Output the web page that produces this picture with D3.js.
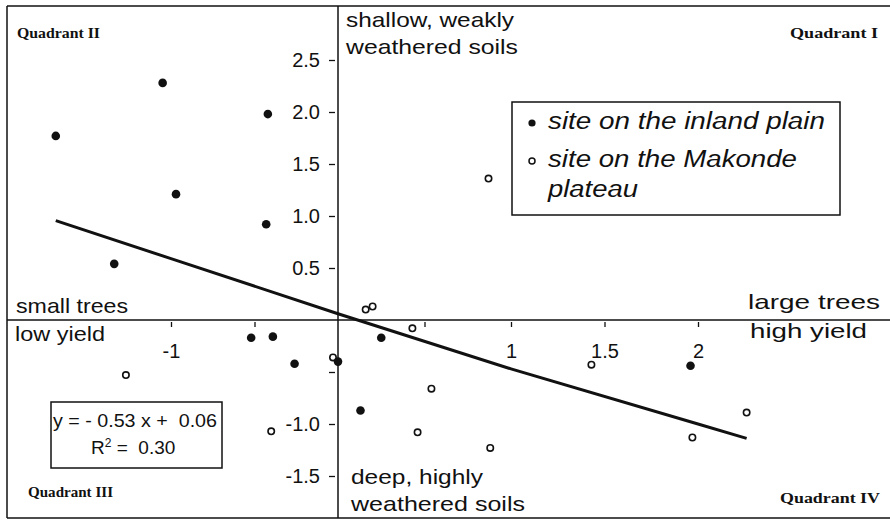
<!DOCTYPE html>
<html>
  <head>
    <title>Tree size and yield vs soil factor</title>
    <script src="https://cdn.jsdelivr.net/npm/d3@7"></script>
    <style>
      body { margin: 0; background: #fff; }
      svg text { fill: #111; }
      .note { font-family: "Liberation Sans", Arial, sans-serif; font-size: 21px; }
      .legend text { font-family: "Liberation Sans", Arial, sans-serif; font-size: 23px; font-style: italic; }
      .quad { font-family: "Liberation Serif", "DejaVu Serif", serif; font-weight: bold; font-size: 14px; }
      .eq { font-family: "Liberation Sans Narrow", "Liberation Sans", sans-serif; font-size: 19px; white-space: pre; }
      .tick text { font-family: "Liberation Sans", Arial, sans-serif; font-size: 20px; fill: #111; }
      .tick line { stroke: #111; stroke-width: 1.3; }
    </style>
  </head>
  <body>
    <svg id="chart" width="890" height="526"></svg>
    <script>
      // sites on the inland plain (filled dots)
      const plainX = [-1.69, -1.05, -0.42, -0.97, -1.34, -0.43, -0.52, -0.39, -0.26, 0.0, 0.25, 0.13, 1.96];
      const plainY = [1.77, 2.28, 1.98, 1.21, 0.54, 0.92, -0.17, -0.16, -0.42, -0.40, -0.17, -0.87, -0.44];

      // sites on the Makonde plateau (open circles)
      const plateauX = [0.87, 0.16, 0.20, 0.43, -1.27, -0.03, -0.40, 0.54, 1.43, 0.46, 0.88, 2.26, 1.97];
      const plateauY = [1.36, 0.10, 0.13, -0.08, -0.53, -0.36, -1.07, -0.66, -0.43, -1.08, -1.23, -0.89, -1.13];

      // linear fit y = -0.53 x + 0.06, R2 = 0.30
      const slope = -0.53;
      const intercept = 0.06;
      const fitX = [-1.69, -1, 0, 1, 2, 2.26];

      const xTicks = [-1, -0.5, 0.5, 1, 1.5, 2];
      const xLabels = ["-1", "", "", "1", "1.5", "2"];
      const yTicks = [2.5, 2, 1.5, 1, 0.5, -0.5, -1, -1.5];
      const yLabels = ["2.5", "2.0", "1.5", "1.0", "0.5", "", "-1.0", "-1.5"];

      const svg = d3.select("#chart");

      // the scanned original is stretched a little more on the right, so x is piecewise
      const x = d3.scaleLinear().domain([-1, 0, 1, 2]).range([171, 338, 511, 698]);
      const y = d3.scaleLinear().domain([-1.5, 2.5]).range([476, 60]);

      // frame and quadrant dividers
      const frame = svg.append("g").attr("stroke", "#111").attr("stroke-width", 1.5);
      frame.append("line").attr("x1", 7).attr("x2", 890).attr("y1", 6).attr("y2", 6);
      frame.append("line").attr("x1", 7).attr("x2", 890).attr("y1", 518).attr("y2", 518);
      frame.append("line").attr("x1", 7).attr("x2", 7).attr("y1", 6).attr("y2", 518);
      frame.append("line").attr("x1", x(0)).attr("x2", x(0)).attr("y1", 6).attr("y2", 518);
      frame.append("line").attr("x1", 7).attr("x2", 890).attr("y1", y(0)).attr("y2", y(0));

      // axes along the dividers
      const yAxis = svg.append("g")
        .attr("transform", `translate(${x(0)},0)`)
        .call(d3.axisLeft(y).tickValues(yTicks).tickSize(8).tickPadding(10)
          .tickFormat(d => yLabels[yTicks.indexOf(d)]));
      yAxis.select(".domain").remove();
      yAxis.selectAll(".tick line").attr("x1", -3).attr("x2", -9);

      const xAxis = svg.append("g")
        .attr("transform", `translate(0,${y(0)})`)
        .call(d3.axisBottom(x).tickValues(xTicks).tickSize(7).tickPadding(17)
          .tickFormat(d => xLabels[xTicks.indexOf(d)]));
      xAxis.select(".domain").remove();
      xAxis.selectAll(".tick line").attr("y1", 2);

      // regression line
      const line = d3.line().x(d => x(d)).y(d => y(slope * d + intercept));
      svg.append("path")
        .datum(fitX)
        .attr("d", line)
        .attr("fill", "none")
        .attr("stroke", "#111")
        .attr("stroke-width", 3);

      // points
      svg.append("g").selectAll("circle")
        .data(d3.range(plateauX.length))
        .enter()
        .append("circle")
        .attr("cx", i => x(plateauX[i]))
        .attr("cy", i => y(plateauY[i]))
        .attr("r", 3.2)
        .attr("fill", "#fff")
        .attr("stroke", "#111")
        .attr("stroke-width", 1.6);

      svg.append("g").selectAll("circle")
        .data(d3.range(plainX.length))
        .enter()
        .append("circle")
        .attr("cx", i => x(plainX[i]))
        .attr("cy", i => y(plainY[i]))
        .attr("r", 4.3)
        .attr("fill", "#111");

      // quadrant notes
      const notes = [
        { t: "shallow, weakly", x: 346, y: 27, w: 168 },
        { t: "weathered soils", x: 346, y: 54, w: 172 },
        { t: "small trees", x: 16, y: 313, w: 112 },
        { t: "low yield", x: 15, y: 341, w: 90 },
        { t: "large trees", x: 748, y: 309, w: 132 },
        { t: "high yield", x: 750, y: 338, w: 117 },
        { t: "deep, highly", x: 351, y: 484, w: 132 },
        { t: "weathered soils", x: 351, y: 511, w: 174 }
      ];
      svg.append("g").selectAll("text")
        .data(notes)
        .enter()
        .append("text")
        .attr("class", "note")
        .attr("x", d => d.x)
        .attr("y", d => d.y)
        .attr("textLength", d => d.w)
        .attr("lengthAdjust", "spacingAndGlyphs")
        .text(d => d.t);

      const quads = [
        { t: "Quadrant II", x: 17, y: 38, w: 83 },
        { t: "Quadrant I", x: 790, y: 38, w: 88 },
        { t: "Quadrant III", x: 28, y: 497, w: 85 },
        { t: "Quadrant IV", x: 780, y: 503, w: 100 }
      ];
      svg.append("g").selectAll("text")
        .data(quads)
        .enter()
        .append("text")
        .attr("class", "quad")
        .attr("x", d => d.x)
        .attr("y", d => d.y)
        .attr("textLength", d => d.w)
        .attr("lengthAdjust", "spacingAndGlyphs")
        .text(d => d.t);

      // legend
      const legend = svg.append("g").attr("class", "legend");
      legend.append("rect")
        .attr("x", 512).attr("y", 102).attr("width", 328).attr("height", 113)
        .attr("fill", "#fff").attr("stroke", "#111").attr("stroke-width", 1.5);
      legend.append("circle").attr("cx", 532).attr("cy", 123).attr("r", 3.6).attr("fill", "#111");
      legend.append("circle").attr("cx", 532).attr("cy", 161).attr("r", 3)
        .attr("fill", "#fff").attr("stroke", "#111").attr("stroke-width", 1.5);
      legend.append("text").attr("x", 548).attr("y", 129).attr("textLength", 277)
        .attr("lengthAdjust", "spacingAndGlyphs").text("site on the inland plain");
      legend.append("text").attr("x", 548).attr("y", 167).attr("textLength", 249)
        .attr("lengthAdjust", "spacingAndGlyphs").text("site on the Makonde");
      legend.append("text").attr("x", 548).attr("y", 197).attr("textLength", 90)
        .attr("lengthAdjust", "spacingAndGlyphs").text("plateau");

      // equation box
      const eq = svg.append("g");
      eq.append("rect")
        .attr("x", 51).attr("y", 402).attr("width", 171).attr("height", 66)
        .attr("fill", "#fff").attr("stroke", "#111").attr("stroke-width", 1.5);
      eq.append("text").attr("class", "eq").attr("x", 53).attr("y", 427)
        .attr("textLength", 164).attr("lengthAdjust", "spacingAndGlyphs")
        .text("y = - 0.53 x +  0.06");
      const r2 = eq.append("text").attr("class", "eq").attr("x", 91).attr("y", 454);
      r2.append("tspan").text("R");
      r2.append("tspan").attr("dy", -7).attr("font-size", 12).text("2");
      r2.append("tspan").attr("dy", 7).text(" =  0.30");
    </script>
  </body>
</html>
